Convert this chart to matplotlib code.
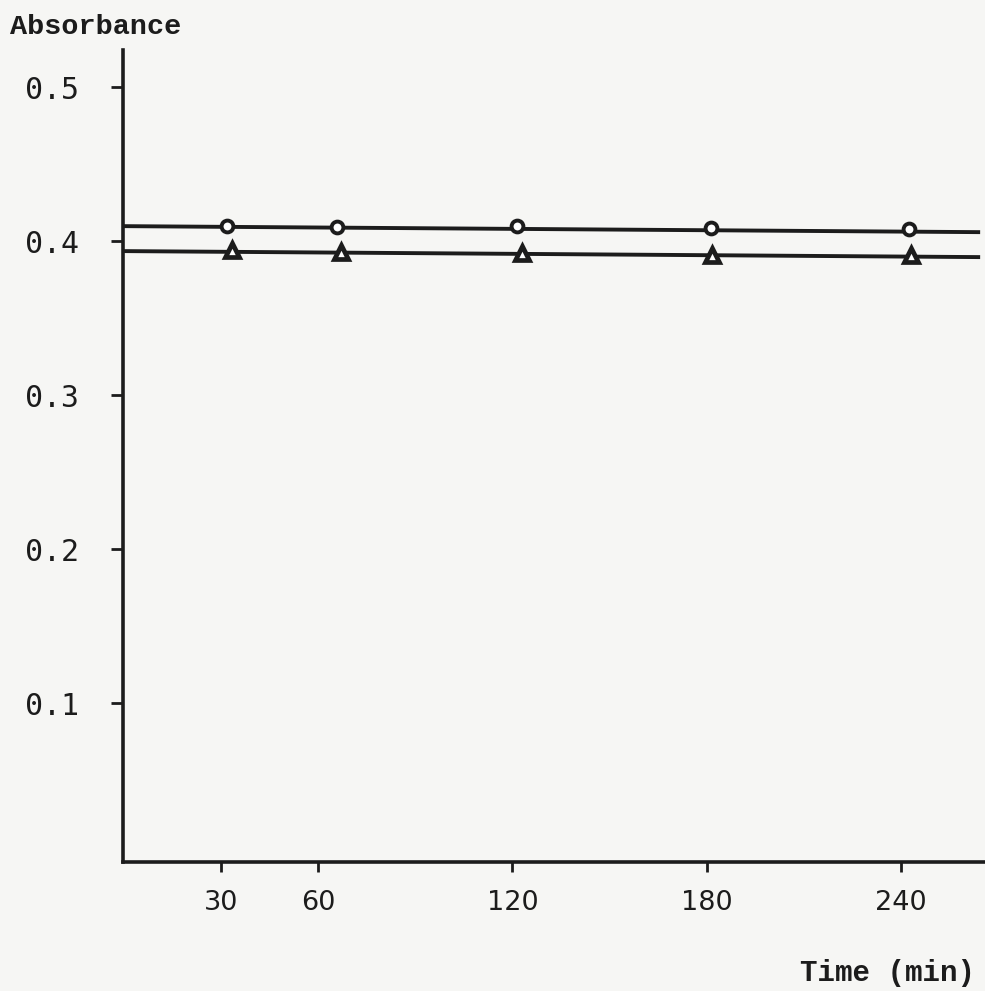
#%%
# absorbance vs time, typewritten figure
import numpy as np
import matplotlib
matplotlib.use('Agg')
import matplotlib.pyplot as plt

#%%
# data
time_circle = [31.8, 65.7, 121.5, 181.3, 242.6]
abs_circle = [0.410, 0.409, 0.4095, 0.4085, 0.408]
time_tri = [33.3, 66.9, 123.0, 181.6, 243.0]
abs_tri = [0.394, 0.393, 0.392, 0.391, 0.391]

# drawn straight lines (end points)
line_t = [0, 264.5]
line_circle = [0.4097, 0.4058]
line_tri = [0.3935, 0.3896]

x_ticks = [30, 60, 120, 180, 240]
y_ticks = [0.1, 0.2, 0.3, 0.4, 0.5]
y_labels = ['0.1', '0.2', '0.3', '0.4', '0.5']

#%%
ink = '#1c1c1c'
paper = '#f6f6f4'

fig = plt.figure(figsize=(9.85, 9.91), dpi=100, facecolor=paper)
ax = fig.add_axes([0.1249, 0.1302, 0.8751, 0.8193])
ax.set_facecolor(paper)

ax.plot(line_t, line_circle, color=ink, lw=2.8, solid_capstyle='butt')
ax.plot(line_t, line_tri, color=ink, lw=2.8, solid_capstyle='butt')
ax.plot(time_circle, abs_circle, 'o', ms=8.5, mfc='white', mec=ink, mew=2.8)
ax.plot(time_tri, abs_tri, '^', ms=10, mfc='white', mec=ink, mew=3.4)

ax.set_xlim(-0.3, 266)
ax.set_ylim(-0.003, 0.524)

for s in ['top', 'right']:
    ax.spines[s].set_visible(False)
for s in ['left', 'bottom']:
    ax.spines[s].set_linewidth(2.6)
    ax.spines[s].set_color(ink)

ax.set_xticks(x_ticks)
ax.set_xticklabels([str(t) for t in x_ticks], family='DejaVu Sans', fontsize=19.5, color=ink)
ax.set_yticks(y_ticks)
ax.set_yticklabels(y_labels, family='DejaVu Sans Mono', fontsize=21.5, color=ink)
ax.tick_params(axis='x', direction='out', length=7, width=2, color=ink, pad=13)
ax.tick_params(axis='y', direction='out', length=8.5, width=2, color=ink, pad=23)

fig.text(10 / 985, 1 - 27 / 991, 'Absorbance', family='Liberation Mono', fontweight='bold',
         fontsize=20.5, color=ink, ha='left', va='center')
fig.text(975 / 985, 1 - 973 / 991, 'Time (min)', family='Liberation Mono', fontweight='bold',
         fontsize=21, color=ink, ha='right', va='center')

plt.savefig('out.png', dpi=100, facecolor=paper)
